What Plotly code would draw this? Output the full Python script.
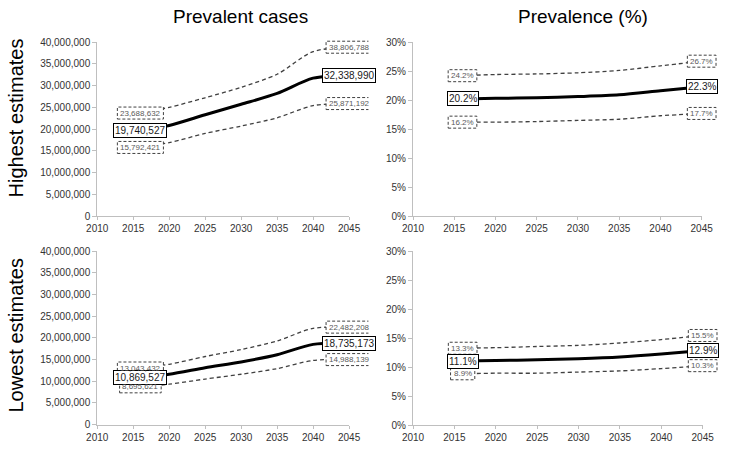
import plotly.graph_objects as go

years = [2016, 2020, 2025, 2030, 2035, 2040, 2045]

high_cases_mid = [19740527, 20850000, 23300000, 25700000, 28200000, 31700000, 32338990]
high_cases_up = [23688632, 25000000, 27200000, 29600000, 32600000, 37800000, 38806788]
high_cases_lo = [15792421, 16900000, 19000000, 20700000, 22600000, 25400000, 25871192]

low_cases_mid = [10869527, 11600000, 13100000, 14450000, 16100000, 18500000, 18735173]
low_cases_up = [13043432, 13900000, 15700000, 17300000, 19300000, 22200000, 22482208]
low_cases_lo = [8695621, 9300000, 10500000, 11600000, 12900000, 14800000, 14988139]

high_prev_mid = [20.2, 20.3, 20.4, 20.6, 20.9, 21.6, 22.3]
high_prev_up = [24.2, 24.4, 24.5, 24.7, 25.1, 25.9, 26.7]
high_prev_lo = [16.2, 16.2, 16.3, 16.5, 16.7, 17.3, 17.7]

low_prev_mid = [11.1, 11.2, 11.3, 11.5, 11.8, 12.3, 12.9]
low_prev_up = [13.3, 13.4, 13.6, 13.8, 14.2, 14.8, 15.5]
low_prev_lo = [8.9, 9.0, 9.0, 9.2, 9.4, 9.8, 10.3]

col_titles = ["Prevalent cases", "Prevalence (%)"]
row_titles = ["Highest estimates", "Lowest estimates"]

W, H = 735, 449
FONT = "Liberation Sans, Arial, sans-serif"
XR = [2010, 2045]

panels = [
    ("", "5", high_cases_mid, high_cases_up, high_cases_lo, "cases"),
    ("2", "6", high_prev_mid, high_prev_up, high_prev_lo, "prev"),
    ("3", "7", low_cases_mid, low_cases_up, low_cases_lo, "cases"),
    ("4", "8", low_prev_mid, low_prev_up, low_prev_lo, "prev"),
]

# plot areas in pixels (left, right, top, bottom)
boxes = {
    "": (89, 349, 37, 216),
    "2": (415, 713, 37, 216),
    "3": (89, 349, 252, 430),
    "4": (415, 714, 252, 431),
}
EXT_X, EXT_Y = 20, 10  # extra room (px) for the label boxes beyond the plot area

def fmt(v, kind):
    return f"{v:,}" if kind == "cases" else f"{v:.1f}%"

def text_w(s, size):
    w = 0
    for ch in s:
        if ch.isdigit():
            w += 0.556
        elif ch in ",.":
            w += 0.278
        elif ch == "%":
            w += 0.889
        else:
            w += 0.556
    return w * size

fig = go.Figure()
annotations = []
shapes = []
layout = {}

for suf, hsuf, mid, up, lo, kind in panels:
    xa, ya = "x" + suf, "y" + suf
    hx, hy = "x" + hsuf, "y" + hsuf
    for series, width, dash, color in [(up, 1.3, "4px,3px", "#404040"),
                                        (lo, 1.3, "4px,3px", "#404040"),
                                        (mid, 3, "solid", "#000000")]:
        fig.add_trace(go.Scatter(
            x=years, y=series, mode="lines", xaxis=xa, yaxis=ya,
            line=dict(color=color, width=width, dash=dash, shape="spline", smoothing=0.8),
            showlegend=False, hoverinfo="skip"))
    l, r, t, b = boxes[suf]
    yr = [0, 40000000] if kind == "cases" else [0, 30]
    layout["xaxis" + suf] = dict(
        domain=[l / W, r / W], range=XR, tick0=2010, dtick=5,
        showline=True, linecolor="#bfbfbf", linewidth=1, ticks="outside",
        ticklen=3, tickcolor="#bfbfbf", showgrid=False, zeroline=False,
        anchor=ya, tickfont=dict(family=FONT, size=10, color="#333333"), fixedrange=True)
    ydict = dict(
        domain=[1 - b / H, 1 - t / H], range=yr, showline=True, linecolor="#bfbfbf",
        linewidth=1, ticks="outside", ticklen=4, tickcolor="#bfbfbf", showgrid=False,
        zeroline=False, anchor=xa, tickfont=dict(family=FONT, size=10, color="#333333"),
        fixedrange=True)
    if kind == "cases":
        ydict.update(dtick=5000000, tickformat=",d")
    else:
        ydict.update(dtick=5, ticksuffix="%")
    layout["yaxis" + suf] = ydict

    # hidden companion axes, same scale but a larger area, so label boxes are not clipped
    xu = (XR[1] - XR[0]) / (r - l)
    yu = (yr[1] - yr[0]) / (b - t)
    layout["xaxis" + hsuf] = dict(
        domain=[(l - EXT_X) / W, (r + EXT_X) / W],
        range=[XR[0] - EXT_X * xu, XR[1] + EXT_X * xu], visible=False,
        anchor=hy, fixedrange=True, showgrid=False, zeroline=False)
    layout["yaxis" + hsuf] = dict(
        domain=[1 - (b + EXT_Y) / H, 1 - (t - EXT_Y) / H],
        range=[yr[0] - EXT_Y * yu, yr[1] + EXT_Y * yu], visible=False,
        anchor=hx, fixedrange=True, showgrid=False, zeroline=False)

    for i in (0, -1):
        annotations.append(dict(
            x=years[i], y=mid[i], xref=xa, yref=ya, text=fmt(mid[i], kind),
            showarrow=False, bgcolor="white", bordercolor="#000000", borderwidth=1,
            borderpad=1, font=dict(family=FONT, size=10, color="#1a1a1a")))
        for series in (up, lo):
            s = fmt(series[i], kind)
            w = text_w(s, 8) + 6
            shapes.append(dict(
                type="rect", xref=hx, yref=hy, xsizemode="pixel", ysizemode="pixel",
                xanchor=years[i], yanchor=series[i], x0=-w / 2, x1=w / 2, y0=-6, y1=6,
                line=dict(color="#404040", width=1, dash="3px,2px"),
                fillcolor="white", layer="above"))
            annotations.append(dict(
                x=years[i], y=series[i], xref=xa, yref=ya, text=s, showarrow=False,
                font=dict(family=FONT, size=8, color="#595959")))

for txt, cx in zip(col_titles, [237, 590]):
    annotations.append(dict(
        x=cx / W, y=1 - 11 / H, xref="paper", yref="paper", text=txt, showarrow=False,
        xanchor="center", yanchor="middle", font=dict(family=FONT, size=19, color="#000000")))
for txt, cy in zip(row_titles, [115, 338]):
    annotations.append(dict(
        x=14 / W, y=1 - cy / H, xref="paper", yref="paper", text=txt, showarrow=False,
        textangle=-90, xanchor="center", yanchor="middle", xshift=-9,
        font=dict(family=FONT, size=20, color="#000000")))

fig.update_layout(
    width=W, height=H, margin=dict(l=0, r=0, t=0, b=0),
    paper_bgcolor="white", plot_bgcolor="rgba(0,0,0,0)",
    annotations=annotations, shapes=shapes, **layout)

fig.write_html("out.html", config={"displayModeBar": False},
               post_script="document.body.style.margin='0';document.body.style.overflow='hidden';")
